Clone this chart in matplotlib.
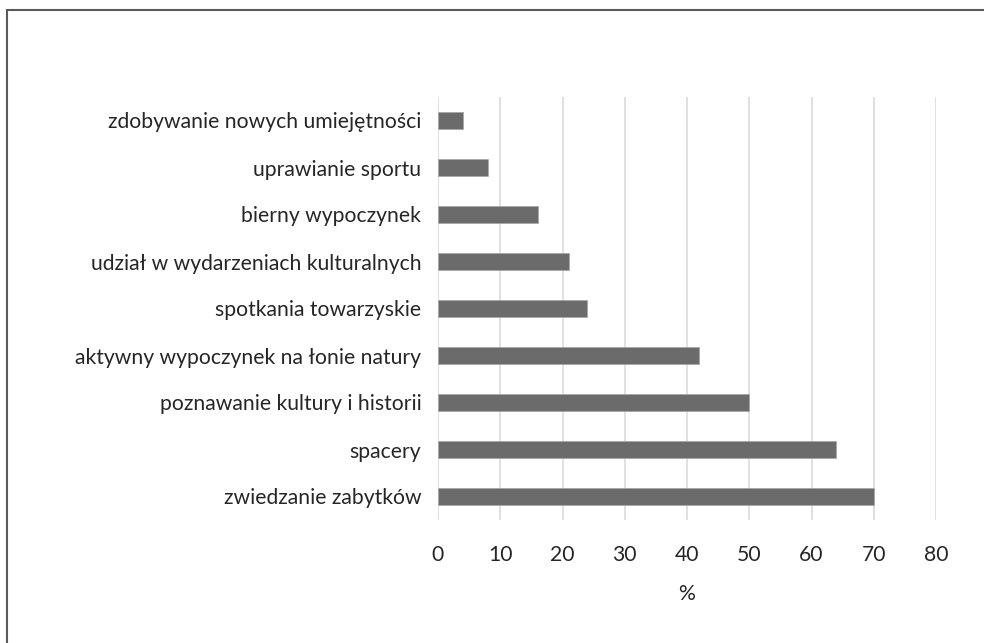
import matplotlib
matplotlib.use("Agg")
import matplotlib.pyplot as plt
from matplotlib.patches import Rectangle

categories = [
    "zwiedzanie zabytków",
    "spacery",
    "poznawanie kultury i historii",
    "aktywny wypoczynek na łonie natury",
    "spotkania towarzyskie",
    "udział w wydarzeniach kulturalnych",
    "bierny wypoczynek",
    "uprawianie sportu",
    "zdobywanie nowych umiejętności",
]
values = [70, 64, 50, 42, 24, 21, 16, 8, 4]
xticks = [0, 10, 20, 30, 40, 50, 60, 70, 80]

plt.rcParams['font.family'] = ['Lato', 'DejaVu Sans']

fig = plt.figure(figsize=(9.84, 6.43), dpi=100)
ax = fig.add_axes([438/984, 1-520/643, (936-438)/984, (520-97)/643])

ax.barh(range(len(categories)), values, height=0.36, color="#6b6b6b",
        edgecolor="#a8a8a8", linewidth=0.6, zorder=3)
ax.set_ylim(-0.5, len(categories)-0.5)
ax.set_xlim(0, 80)
ax.set_xticks(xticks)
ax.set_xticklabels([str(t) for t in xticks])
ax.set_yticks(range(len(categories)))
ax.set_yticklabels(categories)
ax.grid(axis='x', color="#e0e0e0", linewidth=1.4, zorder=0)
for s in ax.spines.values():
    s.set_visible(False)
ax.tick_params(axis='both', length=0, labelsize=15.2, colors="#262626")
ax.tick_params(axis='x', pad=18)
ax.tick_params(axis='y', pad=12)
ax.set_xlabel("%", fontsize=15.2, color="#262626", labelpad=14)

fig.patches.append(Rectangle((7/984, -0.1), 1.2, 1.1 - 10/643, transform=fig.transFigure,
                             fill=False, edgecolor="#5a5a5a", linewidth=1.5))

fig.savefig("out.png", dpi=100)
